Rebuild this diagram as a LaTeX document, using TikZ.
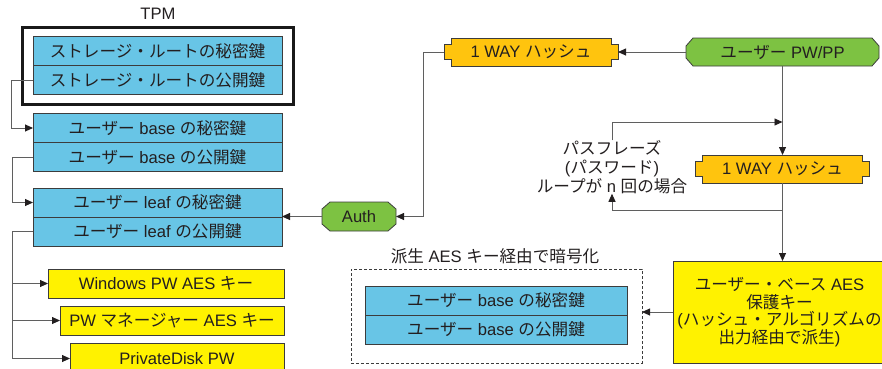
\documentclass[tikz,border=0pt]{standalone}
\usepackage{fontspec}
\setmainfont{Noto Sans CJK JP}
\newfontfamily\lat{Liberation Sans}
\usetikzlibrary{arrows.meta,calc}
\definecolor{kblue}{RGB}{104,197,230}
\definecolor{kyel}{RGB}{255,242,0}
\definecolor{khash}{RGB}{255,196,14}
\definecolor{kgreen}{RGB}{125,194,66}
\definecolor{kline}{RGB}{95,95,95}
\definecolor{kedge}{RGB}{60,60,60}
\definecolor{ktext}{RGB}{35,31,32}
\begin{document}
\begin{tikzpicture}[x=1pt,y=-1pt,
  font=\fontsize{16.6}{18}\selectfont, text=ktext,
  every node/.style={inner sep=0pt, outer sep=0pt},
  keyrow/.style={draw=kedge, line width=0.8pt, fill=kblue, minimum width=249pt, minimum height=29pt},
  yelbox/.style={draw=kedge, line width=0.8pt, fill=kyel, minimum height=29pt},
  shapeline/.style={draw=kedge, line width=0.8pt},
  conn/.style={draw=kline, line width=0.9pt},
  arr/.style={conn, -{Triangle[length=8pt,width=7pt,color=ktext]}},
  pics/hashpic/.style={code={
    \draw[shapeline, fill=khash] (-80,-14) -- (80,-14) -- (80,-7.5) -- (87,-7.5) -- (87,7.5) -- (80,7.5) -- (80,14) -- (-80,14) -- (-80,7.5) -- (-87,7.5) -- (-87,-7.5) -- (-80,-7.5) -- cycle;
  }}
]
\path[use as bounding box, clip] (0,0) rectangle (882,368);

% TPM
\node (tpmlbl) at (158,14) {\lat TPM};
\node[draw=black!90, line width=3pt, minimum width=271.5pt, minimum height=77pt] (tpm) at (157.75,66) {};
\node[keyrow] (tpmA) at (157.5,51) {ストレージ・ルートの秘密鍵};
\node[keyrow] (tpmB) at (157.5,80) {ストレージ・ルートの公開鍵};

% user base
\node[keyrow] (baseA) at (157.5,128) {ユーザー{\lat\ base }の秘密鍵};
\node[keyrow] (baseB) at (157.5,157) {ユーザー{\lat\ base }の公開鍵};

% user leaf
\node[keyrow] (leafA) at (157.5,202.5) {ユーザー{\lat\ leaf }の秘密鍵};
\node[keyrow] (leafB) at (157.5,231.5) {ユーザー{\lat\ leaf }の公開鍵};

% yellow keys
\node[yelbox, minimum width=236pt] (y1) at (166,283.5) {{\lat Windows PW AES }キー};
\node[yelbox, minimum width=224pt] (y2) at (172,320.5) {{\lat PW }マネージャー{\lat\ AES }キー};
\node[yelbox, minimum width=214pt, minimum height=31pt] (y3) at (177,358.5) {\lat PrivateDisk PW};

% Auth
\draw[shapeline, fill=kgreen] (330,202) -- (388,202) -- (396,209) -- (396,224) -- (388,231) -- (330,231) -- (322,224) -- (322,209) -- cycle;
\node[minimum width=74pt, minimum height=29pt] (auth) at (359,216.5) {\lat Auth};

% user PW/PP
\draw[shapeline, fill=kgreen] (693,38) -- (872,38) -- (879,46) -- (879,58) -- (872,66) -- (693,66) -- (686,58) -- (686,46) -- cycle;
\node[minimum width=193pt, minimum height=28pt] (pwpp) at (782.5,52) {ユーザー{\lat\ PW/PP}};

% hashes
\pic at (531,52) {hashpic};
\node[minimum width=174pt, minimum height=28pt] (hash1) at (531,52) {{\lat 1 WAY }ハッシュ};
\pic at (782.5,169) {hashpic};
\node[minimum width=174pt, minimum height=28pt] (hash2) at (782.5,169) {{\lat 1 WAY }ハッシュ};

% loop text
\node[align=center, font=\fontsize{16.6}{19}\selectfont] (loop) at (612,167) {パスフレーズ\\{\lat (}パスワード{\lat )}\\ループが{\lat\ n }回の場合};

% big yellow
\node[draw=kedge, line width=0.8pt, fill=kyel, minimum width=213pt, minimum height=102pt, align=center, font=\fontsize{16.6}{17.5}\selectfont] (big) at (779.5,312) {ユーザー・ベース{\lat\ AES}\\保護キー\\{\lat (}ハッシュ・アルゴリズムの\\出力経由で派生{\lat )}};

% encrypted area
\node[draw=kedge, line width=0.8pt, dash pattern=on 3pt off 2pt, minimum width=291pt, minimum height=94pt] (enc) at (496.5,316) {};
\node (enclbl) at (495,256) {派生{\lat\ AES }キー経由で暗号化};
\node[keyrow, minimum width=262pt] (encA) at (496,300.5) {ユーザー{\lat\ base }の秘密鍵};
\node[keyrow, minimum width=262pt] (encB) at (496,329.5) {ユーザー{\lat\ base }の公開鍵};

% connectors
\coordinate (tk1) at (11,0);
\coordinate (tk) at (12,0);
\coordinate (ha) at (423,0);
\coordinate (yA) at (0,122);
\coordinate (yB) at (0,210);
\draw[arr] (tpmB.west) -- (tpmB.west -| tk1) |- (baseA.west);
\draw[arr] (baseB.west) -- (baseB.west -| tk) |- (leafA.west);
\draw[arr] (leafB.west) -- (leafB.west -| tk) |- (y3.west);
\draw[arr] (tk |- y1.west) -- (y1.west);
\draw[arr] (tk |- y2.west) -- (y2.west);
\draw[arr] (auth.west) -- (auth.west -| leafA.east);
\draw[arr] (hash1.west) -- (hash1.west -| ha) |- (auth.east);
\draw[arr] (pwpp.west) -- (hash1.east);
\draw[arr] (pwpp.south) -- (hash2.north);
\draw[arr] (loop.north) -- (loop.north |- yA) -- (pwpp.south |- yA);
\draw[arr] (hash2.south) -- (hash2.south |- big.north);
\draw[arr] (hash2.south |- yB) -- (loop.south |- yB) -- (loop.south);
\draw[arr] (big.west) -- (big.west -| enc.east);
\end{tikzpicture}
\end{document}
